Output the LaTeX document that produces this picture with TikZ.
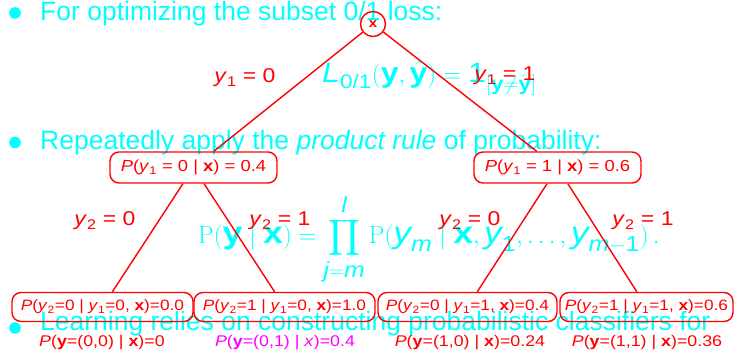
\documentclass[tikz,border=0pt]{standalone}
\usepackage{amsmath}
\usepackage[no-math]{fontspec}
\setmainfont{Liberation Sans}
\newfontfamily\tfont[FakeStretch=1.15]{Liberation Sans}
\definecolor{cy}{RGB}{0,255,255}
\definecolor{rd}{RGB}{255,0,0}
\definecolor{mg}{RGB}{255,0,255}
\newcommand\Yv[1]{\textit{y}\textsubscript{#1}}
\newcommand\iy{\text{\itshape y}}
\newcommand\bx{\text{\bfseries x}}
\newcommand\by{\text{\bfseries y}}
\tikzset{
  bullettext/.style={anchor=base west, text=cy, font=\fontsize{26.5}{30}\selectfont, inner sep=0},
  bulletdot/.style={circle, fill=cy, minimum size=11.6pt, inner sep=0},
  rootnode/.style={circle, draw=rd, line width=1.4pt, minimum size=25pt, inner sep=0, text=rd, font=\tfont\fontsize{13}{15}\selectfont\bfseries},
  probbox/.style={draw=rd, line width=1.4pt, rounded corners=9pt, inner sep=0, text=rd, font=\tfont\fontsize{15}{17}\selectfont},
  edgelabel/.style={anchor=base, text=rd, font=\tfont\fontsize{20}{22}\selectfont, inner sep=0},
  jointlabel/.style={anchor=base, font=\tfont\fontsize{15.5}{17}\selectfont, inner sep=0},
  treeedge/.style={draw=rd, line width=1.4pt},
}
\begin{document}
\begin{tikzpicture}[x=1pt,y=-1pt]
\useasboundingbox (0,0) rectangle (740,352);
% background slide text (cyan)
\node[bulletdot] (d1) at (15,13) {};
\node[bullettext] (b1) at (40,20.5) {For optimizing the subset 0/1 loss:};
\node[bulletdot] (d2) at (15,142.5) {};
\node[bullettext] (b2) at (40,150) {Repeatedly apply the \textit{product rule} of probability:};
\node[bulletdot] (d3) at (15,328) {};
\node[bullettext] (b3) at (40,331) {Learning relies on constructing probabilistic classifiers for};
\node[anchor=base west, text=cy, inner sep=0, font=\tfont\fontsize{28}{31}\selectfont] (lossf) at (322,83)
  {$\text{\itshape L}_{\text{0/1}}(\by, \hat{\by}) = \text{1}_{[\by \neq \hat{\by}]}$};
\node[anchor=base west, text=cy, inner sep=0, font=\tfont\fontsize{31}{34}\selectfont] (prodf) at (198,244)
  {$\displaystyle \mathrm{P}(\by \mid \bx) = \prod_{\text{\itshape j}=\text{\itshape m}}^{\text{\itshape l}} \mathrm{P}(\iy_{\text{\itshape m}} \mid \bx, \iy_{\text{1}}, \ldots, \iy_{\text{\itshape m}-\text{1}})\,.$};
% tree (red)
\node[rootnode] (root) at (373,24) {x};
\node[probbox, minimum width=167pt, minimum height=31pt, font=\tfont\fontsize{16}{18}\selectfont] (a0) at (193.5,167.5)
  {\textit{P}(\Yv{1} = 0 | \textbf{x}) = 0.4};
\node[probbox, minimum width=167pt, minimum height=31pt, font=\tfont\fontsize{16}{18}\selectfont] (a1) at (557.5,167.5)
  {\textit{P}(\Yv{1} = 1 | \textbf{x}) = 0.6};
\node[probbox, minimum width=181pt, minimum height=29pt] (c00) at (102.5,307)
  {\textit{P}(\Yv{2}=0 | \Yv{1}=0, \textbf{x})=0.0};
\node[probbox, minimum width=181pt, minimum height=29pt] (c01) at (284.5,307)
  {\textit{P}(\Yv{2}=1 | \Yv{1}=0, \textbf{x})=1.0};
\node[probbox, minimum width=179pt, minimum height=29pt] (c10) at (467.5,307)
  {\textit{P}(\Yv{2}=0 | \Yv{1}=1, \textbf{x})=0.4};
\node[probbox, minimum width=173pt, minimum height=29pt] (c11) at (646.5,307)
  {\textit{P}(\Yv{2}=1 | \Yv{1}=1, \textbf{x})=0.6};
\draw[treeedge] (root) -- (a0);
\draw[treeedge] (root) -- (a1);
\draw[treeedge] (a0) -- (c00);
\draw[treeedge] (a0) -- (c01);
\draw[treeedge] (a1) -- (c10);
\draw[treeedge] (a1) -- (c11);
\node[edgelabel] (e1) at (245,83) {\Yv{1} = 0};
\node[edgelabel] (e2) at (505,81) {\Yv{1} = 1};
\node[edgelabel] (e3) at (105,226) {\Yv{2} = 0};
\node[edgelabel] (e4) at (280,226) {\Yv{2} = 1};
\node[edgelabel] (e5) at (470,226) {\Yv{2} = 0};
\node[edgelabel] (e6) at (643,226) {\Yv{2} = 1};
\node[jointlabel, text=rd] (j00) at (102,347) {\textit{P}(\textbf{y}=(0,0) | \textbf{x})=0};
\node[jointlabel, text=mg] (j01) at (285,347) {\textit{P}(\textbf{y}=(0,1) | \textit{x})=0.4};
\node[jointlabel, text=rd] (j10) at (470,347) {\textit{P}(\textbf{y}=(1,0) | \textbf{x})=0.24};
\node[jointlabel, text=rd] (j11) at (647,347) {\textit{P}(\textbf{y}=(1,1) | \textbf{x})=0.36};
\end{tikzpicture}
\end{document}
